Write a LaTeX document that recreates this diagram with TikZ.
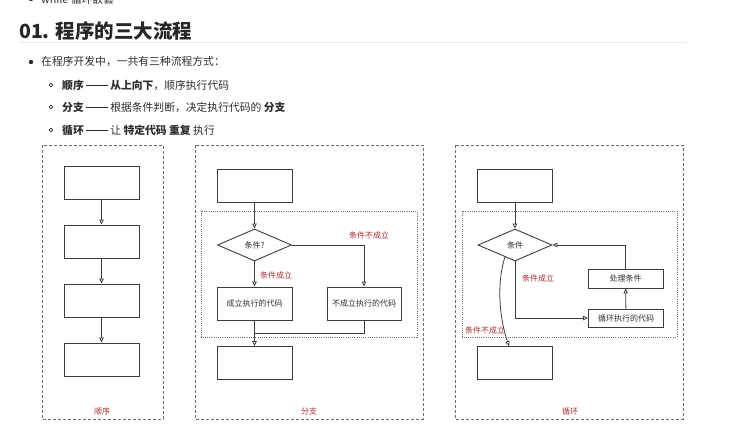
\documentclass[tikz,border=0pt]{standalone}
\usepackage{fontspec}
\setmainfont{Noto Sans CJK SC}
\usepackage{xcolor}
\usepackage{tikz}
\usetikzlibrary{shapes.geometric, arrows.meta, positioning}
\definecolor{lblred}{RGB}{170,45,50}
\definecolor{txtgray}{RGB}{45,45,45}
\definecolor{boxgray}{RGB}{60,60,60}
\definecolor{framegray}{RGB}{110,110,110}
\newcommand{\longdash}{\rule[0.34em]{2em}{0.07em}}

\begin{document}
\begin{tikzpicture}[x=1pt,y=-1pt,
    box/.style={draw=boxgray, line width=0.9pt, minimum width=75pt, minimum height=33pt,
      inner sep=0pt, font=\fontsize{8}{9}\selectfont, text=txtgray},
    cond/.style={diamond, draw=boxgray, line width=0.9pt, aspect=2.3, minimum width=74pt,
      minimum height=32pt, inner sep=0pt, font=\fontsize{8}{9}\selectfont, text=txtgray},
    arr/.style={draw=boxgray, line width=0.8pt, -{Triangle[open, length=5pt, width=4.5pt]}},
    lbl/.style={text=lblred, font=\fontsize{8}{9}\selectfont, inner sep=0pt},
    panel/.style={draw=framegray, line width=0.7pt, dash pattern=on 3pt off 2pt},
    zone/.style={draw=framegray, line width=0.7pt, dash pattern=on 1pt off 1.2pt},
    item/.style={anchor=west, inner sep=0pt, text=txtgray, font=\fontsize{10.8}{12}\selectfont}]
  \useasboundingbox (0,0) rectangle (745,427);

  % heading and list
  \fill[txtgray] (31,-1) circle (2.2pt);
  \node[item] (prev) at (41,-1) {while 循环嵌套};
  \node[anchor=west, inner sep=0pt, text=black!85, font=\fontsize{19.5}{22}\selectfont\bfseries]
    (title) at (19,31) {01. 程序的三大流程};
  \draw[black!8, line width=0.8pt] (20,42.5) -- (687,42.5);
  \fill[txtgray] (31,62) circle (2.2pt);
  \node[item] (intro) at (41,62) {在程序开发中，一共有三种流程方式：};
  \foreach \y in {85,107,130}
    \draw[txtgray, line width=0.6pt] (51,\y) circle (1.9pt);
  \node[item] (seqtxt) at (62,85) {\textbf{顺序 \longdash{} 从上向下}，顺序执行代码};
  \node[item] (brtxt) at (62,107) {\textbf{分支 \longdash{}} 根据条件判断，决定执行代码的 \textbf{分支}};
  \node[item] (looptxt) at (62,130) {\textbf{循环 \longdash{}} 让 \textbf{特定代码 重复} 执行};

  % sequence
  \draw[panel] (42,145) rectangle (163,419);
  \foreach \i in {1,...,4}
    \node[box] (s\i) at (101.5,{182.5+(\i-1)*59}) {};
  \foreach \i/\j in {1/2,2/3,3/4}
    \draw[arr] (s\i) -- (s\j);
  \node[lbl] (seqlbl) at (102,411) {顺序};

  % branch
  \draw[panel] (195,145) rectangle (423,419);
  \draw[zone] (201,211) rectangle (417,337);
  \node[box] (b0) at (254.5,185.5) {};
  \node[cond] (bc) at (254.5,245) {条件?};
  \node[box] (byes) at (254.5,303.5) {成立执行的代码};
  \node[box, minimum width=74pt] (bno) at (364,303.5) {不成立执行的代码};
  \node[box] (bend) at (254.5,363) {};
  \coordinate (bjoin) at (254.5,333);
  \draw[arr] (b0) -- (bc);
  \draw[arr] (bc) -- (byes);
  \draw[arr] (bc.east) -| (bno.north);
  \draw[arr] (byes) -- (bend);
  \draw[draw=boxgray, line width=0.8pt] (bno.south) |- (bjoin);
  \node[lbl] (byeslbl) at (276,275) {条件成立};
  \node[lbl] (bnolbl) at (369,235) {条件不成立};
  \node[lbl] (brlbl) at (309,411) {分支};

  % loop
  \draw[panel] (455,145) rectangle (683,419);
  \draw[zone] (462,211) rectangle (677,337);
  \node[box] (l0) at (515,185.5) {};
  \node[cond] (lc) at (515,245) {条件};
  \node[box, minimum height=19pt] (lfix) at (625.5,278.5) {处理条件};
  \node[box, minimum height=18pt] (lbody) at (626,318) {循环执行的代码};
  \node[box] (lend) at (515,363) {};
  \draw[arr] (l0) -- (lc);
  \draw[arr] (lc.south) |- (lbody.west);
  \draw[arr] (lbody) -- (lfix);
  \draw[arr] (lfix.north) |- (lc.east);
  \draw[arr] (lc.230) .. controls (496,285) and (500,320) .. ([xshift=-6pt]lend.north);
  \node[lbl] (lyeslbl) at (538,278) {条件成立};
  \node[lbl] (lnolbl) at (485,330) {条件不成立};
  \node[lbl] (looplbl) at (570,411) {循环};
\end{tikzpicture}
\end{document}
